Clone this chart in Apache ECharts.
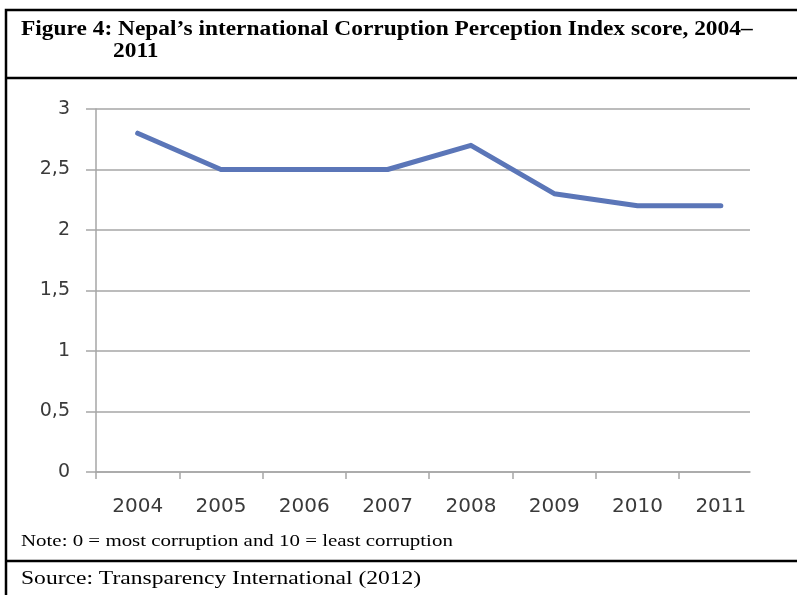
<!DOCTYPE html>
<html>
<head>
<meta charset="utf-8">
<script src="https://cdn.jsdelivr.net/npm/echarts@6/dist/echarts.min.js"></script>
<style>
html,body{margin:0;padding:0;background:#fff;}
#chart{width:797px;height:595px;}
</style>
</head>
<body>
<div id="chart"></div>
<script>
var years = ['2004','2005','2006','2007','2008','2009','2010','2011'];
var scores = [2.8, 2.5, 2.5, 2.5, 2.7, 2.3, 2.2, 2.2];
var yTicks = [0, 0.5, 1, 1.5, 2, 2.5, 3];
var titleLine1 = 'Figure 4: Nepal\u2019s international Corruption Perception Index score, 2004\u2013';
var titleLine2 = '2011';
var noteText = 'Note: 0 = most corruption and 10 = least corruption';
var sourceText = 'Source: Transparency International (2012)';

var chart = echarts.init(document.getElementById('chart'), null, {renderer: 'canvas'});

var lineData = scores.map(function (v, i) { return [i + 0.5, v]; });
var tickPos = years.map(function (y, i) { return i; });
var labelPos = years.map(function (y, i) { return i + 0.5; });

var option = {
  backgroundColor: '#fff',
  animation: false,
  grid: {left: 96, right: 47, top: 109, bottom: 123, containLabel: false},
  xAxis: {
    type: 'value',
    min: 0,
    max: 7.85,
    interval: 1,
    splitLine: {show: false},
    axisLine: {show: true, onZero: false, lineStyle: {color: '#a6a6a6', width: 1.5}},
    axisTick: {show: true, length: 7, customValues: tickPos, lineStyle: {color: '#a6a6a6', width: 1.5}},
    axisLabel: {
      customValues: labelPos,
      margin: 25,
      fontFamily: 'DejaVu Sans',
      fontSize: 20,
      color: '#3a3a3a',
      formatter: function (v) { return years[Math.round(v - 0.5)]; }
    }
  },
  yAxis: {
    type: 'value',
    min: 0,
    max: 3,
    interval: 0.5,
    axisLine: {show: true, lineStyle: {color: '#a6a6a6', width: 1.5}},
    axisTick: {show: true, length: 10, lineStyle: {color: '#a6a6a6', width: 1.5}},
    splitLine: {show: true, lineStyle: {color: '#a6a6a6', width: 1.5}},
    axisLabel: {
      margin: 26,
      fontFamily: 'DejaVu Sans',
      fontSize: 19,
      color: '#3a3a3a',
      formatter: function (v) { return String(v).replace('.', ','); }
    }
  },
  series: [{
    type: 'line',
    data: lineData,
    symbol: 'none',
    lineStyle: {color: '#5b76b8', width: 5, cap: 'round', join: 'round'},
    itemStyle: {color: '#5b76b8'}
  }],
  graphic: [
    {type: 'rect', shape: {x: 6, y: 10, width: 800, height: 600}, style: {fill: null, stroke: '#000', lineWidth: 2.5}, silent: true, z: 100},
    {type: 'line', shape: {x1: 6, y1: 78, x2: 797, y2: 78}, style: {stroke: '#000', lineWidth: 2.5}, silent: true, z: 100},
    {type: 'line', shape: {x1: 6, y1: 561, x2: 797, y2: 561}, style: {stroke: '#000', lineWidth: 2.5}, silent: true, z: 100},
    {type: 'text', x: 21, y: 30, scaleX: 1.17, style: {text: titleLine1, font: 'bold 20px "Liberation Serif"', fill: '#000', verticalAlign: 'middle'}, z: 100},
    {type: 'text', x: 113, y: 52, scaleX: 1.17, style: {text: titleLine2, font: 'bold 20px "Liberation Serif"', fill: '#000', verticalAlign: 'middle'}, z: 100},
    {type: 'text', x: 21, y: 542, scaleX: 1.23, style: {text: noteText, font: '17px "Liberation Serif"', fill: '#000', verticalAlign: 'middle'}, z: 100},
    {type: 'text', x: 21, y: 579, scaleX: 1.24, style: {text: sourceText, font: '19px "Liberation Serif"', fill: '#000', verticalAlign: 'middle'}, z: 100}
  ]
};
chart.setOption(option);
</script>
</body>
</html>
